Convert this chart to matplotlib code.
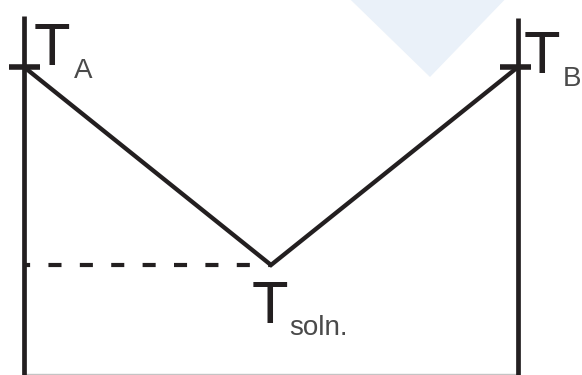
import matplotlib.pyplot as plt
from matplotlib.patches import Polygon

plt.rcParams['font.family'] = ['Liberation Sans', 'DejaVu Sans']
plt.rcParams['lines.scale_dashes'] = False

# Diagram data: composition (0 = pure A, 1 = pure B) and temperatures
comp_A = 0.0
comp_B = 1.0
comp_soln = 0.5
T_A = 80
T_B = 80
T_soln = 20
T_top = 95.5
T_bottom = -13.3

ink = '#231f20'
sub = '#4a4a4a'

fig = plt.figure(figsize=(5.82, 3.75), dpi=100)
ax = fig.add_axes([0, 0, 1, 1])
ax.set_xlim(-0.0486, 1.1296)
ax.set_ylim(-13.33, 100.3)
ax.axis('off')

# faint watermark triangle at the top
fig.patches.append(Polygon([(347 / 582, 1.01), (508 / 582, 1.01), (430 / 582, 1 - 77 / 375)],
                           closed=True, transform=fig.transFigure,
                           facecolor='#eaf1f9', edgecolor='none', zorder=0))

# faint base line
ax.plot([comp_A, comp_B], [-13.0, -13.0], color='#c4c4c4', lw=1, zorder=1)

# two vertical axes (pure A and pure B)
ax.plot([comp_A, comp_A], [T_bottom - 1, T_top], color=ink, lw=3.4, solid_capstyle='butt', zorder=3)
ax.plot([comp_B, comp_B], [T_bottom - 1, T_top - 0.6], color=ink, lw=3.4, solid_capstyle='butt', zorder=3)

# tick marks at the boiling points
ax.plot([comp_A - 0.031, comp_A + 0.032], [T_A, T_A], color=ink, lw=4.0, solid_capstyle='butt', zorder=3)
ax.plot([comp_B - 0.036, comp_B + 0.026], [T_B, T_B], color=ink, lw=4.0, solid_capstyle='butt', zorder=3)

# V curve
ax.plot([comp_A, comp_soln, comp_B], [T_A, T_soln, T_B], color=ink, lw=3.1,
        solid_joinstyle='miter', zorder=4)

# dashed level line
ax.plot([comp_A, comp_soln], [T_soln, T_soln], color=ink, lw=3.0,
        linestyle=(5, (9.4, 13.2)), zorder=2)

# labels
def label(xy, main, subtxt, off_main, off_sub):
    ax.annotate(main, xy=xy, xytext=off_main, textcoords='offset pixels',
                ha='left', va='baseline', fontsize=43, color=ink)
    ax.annotate(subtxt, xy=xy, xytext=off_sub, textcoords='offset pixels',
                ha='left', va='baseline', fontsize=20, color=sub)

label((comp_A, T_A), 'T', 'A', (10, 2), (50, -11))
label((comp_B, T_B), 'T', 'B', (6, -6), (45, -19))
label((comp_soln, T_soln), 'T', 'soln.', (-19, -58), (18, -70))

fig.savefig('out.png', dpi=100)
